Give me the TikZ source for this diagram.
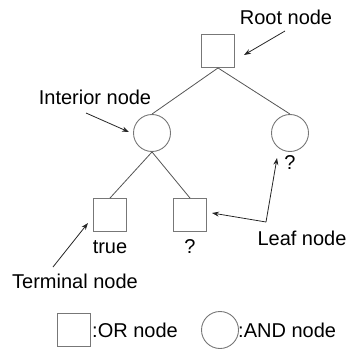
\documentclass[tikz,border=0pt]{standalone}
\usepackage{fontspec}
\setmainfont{Liberation Sans}
\usetikzlibrary{arrows.meta}
\definecolor{edgegray}{HTML}{555555}
\definecolor{boxgray}{HTML}{777777}
\begin{document}
\begin{tikzpicture}[x=1pt,y=-1pt,
  ornode/.style={draw=boxgray,line width=0.9pt,minimum size=33pt,inner sep=0pt},
  andnode/.style={draw=boxgray,line width=0.9pt,circle,minimum size=37pt,inner sep=0pt},
  lbl/.style={font=\fontsize{20}{23}\selectfont,inner sep=0pt,anchor=center},
  edge/.style={draw=edgegray,line width=0.8pt},
  pointer/.style={draw=black!85,line width=0.8pt,-{Stealth[length=7pt,width=5pt]}}]
\useasboundingbox (0,0) rectangle (348,350);
% tree
\node[ornode] (root) at (218,51) {};
\node[andnode] (andL) at (152,133) {};
\node[andnode] (andR) at (290,133) {};
\node[ornode] (leafT) at (110,215) {};
\node[ornode] (leafQ) at (190,215) {};
\draw[edge] (root.south) -- (andL.north);
\draw[edge] (root.south) -- (andR.north);
\draw[edge] (andL.south) -- (leafT.north);
\draw[edge] (andL.south) -- (leafQ.north);
% values below nodes
\node[lbl] (qR) at (290,163) {?};
\node[lbl] (vT) at (110,247) {true};
\node[lbl] (vQ) at (190,247) {?};
% annotations
\node[lbl] (tRoot) at (286,17) {Root node};
\node[lbl] (tInt) at (95,97) {Interior node};
\node[lbl] (tLeaf) at (302,238) {Leaf node};
\node[lbl] (tTerm) at (75,281) {Terminal node};
\coordinate (rootA) at (285,31);
\coordinate (intA) at (86,113);
\coordinate (leafA) at (266,222);
\coordinate (termA) at (53,267);
\draw[pointer] (rootA) -- (244,55);
\draw[pointer] (intA) -- (129,132);
\draw[pointer] (leafA) -- (277,158);
\draw[pointer] (leafA) -- (212,213);
\draw[pointer] (termA) -- (88,223);
% legend
\node[ornode] (legOr) at (74,330) {};
\node[lbl,anchor=west] (legOrT) at (92,330) {:OR node};
\node[andnode] (legAnd) at (220,330) {};
\node[lbl,anchor=west] (legAndT) at (238,330) {:AND node};
\end{tikzpicture}
\end{document}
